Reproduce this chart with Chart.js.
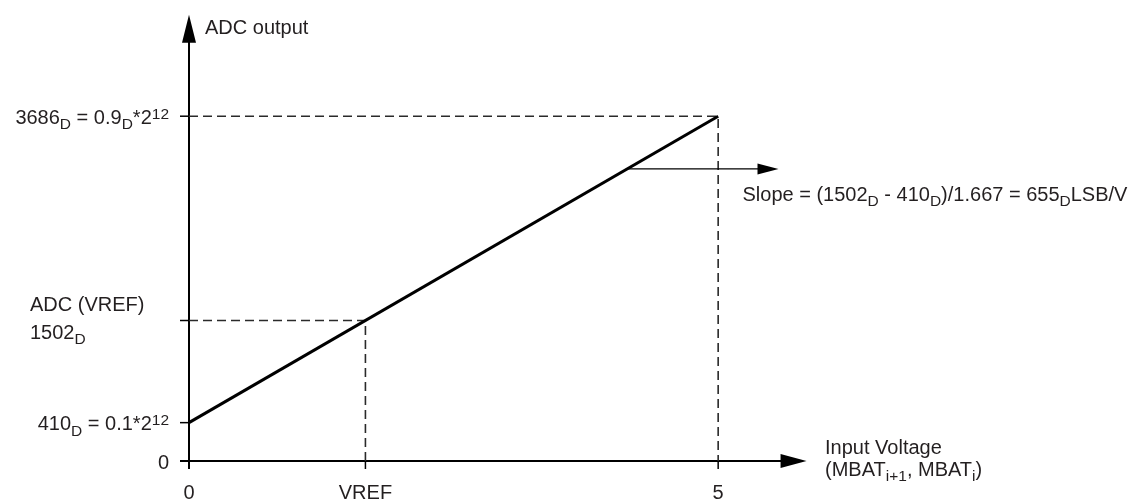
<!DOCTYPE html>
<html><head><meta charset="utf-8">
<script src="https://cdn.jsdelivr.net/npm/chart.js@4/dist/chart.umd.min.js"></script>
<style>html,body{margin:0;padding:0;background:#fff}#wrap{width:1138px;height:502px}</style>
</head><body><div id="wrap"><canvas id="c" width="1138" height="502"></canvas></div>
<script>
// ---- data ----
const inputVoltage = [0, 5];
const adcOutput = [410, 3686];
const vrefVoltage = 1.667;
const adcAtVref = 1502;
const fullScaleVoltage = 5;
const adcAtFullScale = 3686;
const xTickValues = [0, 1.667, 5];
const xTickLabels = ['0', 'VREF', '5'];
const yTickValues = [0, 410, 1502, 3686];
const yTickLabels = ['0', '410_{D} = 0.1*2^{12}', '1502_{D}', '3686_{D} = 0.9_{D}*2^{12}'];
const yTickCaptions = ['', '', 'ADC (VREF)', ''];
const yAxisTitle = 'ADC output';
const xAxisTitle = ['Input Voltage', '(MBAT_{i+1}, MBAT_{i})'];
const slopeText = 'Slope = (1502_{D} - 410_{D})/1.667 = 655_{D}LSB/V';
const slopeArrowVoltage = [4.14, 5.57];

// ---- helpers ----
const FONT = '"Liberation Sans", Arial, Helvetica, sans-serif';
const MAIN = 20, SMALL = 15.5, TEXT = '#231f20';
function parseRich(s){
  const segs=[]; const re=/([_^])\{([^}]*)\}/g; let last=0,m;
  while((m=re.exec(s))){
    if(m.index>last) segs.push({t:s.slice(last,m.index),k:'n'});
    segs.push({t:m[2],k:m[1]==='_'?'sub':'sup'}); last=re.lastIndex;
  }
  if(last<s.length) segs.push({t:s.slice(last),k:'n'});
  return segs;
}
function segFont(k){ return (k==='n'?MAIN:SMALL)+'px '+FONT; }
function richWidth(ctx,s){
  let w=0; for(const g of parseRich(s)){ ctx.font=segFont(g.k); w+=ctx.measureText(g.t).width; } return w;
}
function drawRich(ctx,s,x,y,align){
  let w=richWidth(ctx,s);
  let cx = align==='right'? x-w : align==='center'? x-w/2 : x;
  ctx.textAlign='left'; ctx.textBaseline='alphabetic'; ctx.fillStyle=TEXT;
  for(const g of parseRich(s)){
    ctx.font=segFont(g.k);
    const dy = g.k==='sub'?5.5:g.k==='sup'?-5:0;
    ctx.fillText(g.t,cx,y+dy);
    cx+=ctx.measureText(g.t).width;
  }
}
function tri(ctx,pts){ ctx.beginPath(); ctx.moveTo(pts[0][0],pts[0][1]); ctx.lineTo(pts[1][0],pts[1][1]); ctx.lineTo(pts[2][0],pts[2][1]); ctx.closePath(); ctx.fill(); }

const diagram = {
  id:'diagram',
  beforeDatasetsDraw(chart){
    const ctx=chart.ctx, xs=chart.scales.x, ys=chart.scales.y;
    const x0=xs.getPixelForValue(0), y0=ys.getPixelForValue(0);
    const xEnd=xs.getPixelForValue(5.835), yTop=ys.getPixelForValue(4770);
    ctx.save();
    ctx.strokeStyle='#000'; ctx.fillStyle='#000'; ctx.lineWidth=2;
    // y axis
    ctx.beginPath(); ctx.moveTo(x0,y0+8); ctx.lineTo(x0,yTop+20); ctx.stroke();
    tri(ctx,[[x0,yTop],[x0-7,yTop+28],[x0+7,yTop+28]]);
    // x axis
    ctx.beginPath(); ctx.moveTo(x0-9,y0); ctx.lineTo(xEnd-20,y0); ctx.stroke();
    tri(ctx,[[xEnd,y0],[xEnd-26,y0-7],[xEnd-26,y0+7]]);
    // y ticks
    ctx.lineWidth=1.5;
    yTickValues.forEach(v=>{ if(v===0) return; const py=ys.getPixelForValue(v);
      ctx.beginPath(); ctx.moveTo(x0-9,py); ctx.lineTo(x0,py); ctx.stroke(); });
    // x ticks below axis
    xTickValues.forEach(v=>{ if(v===0) return; const px=xs.getPixelForValue(v);
      ctx.beginPath(); ctx.moveTo(px,y0); ctx.lineTo(px,y0+8); ctx.stroke(); });
    ctx.restore();
  },
  afterDatasetsDraw(chart){
    const ctx=chart.ctx, xs=chart.scales.x, ys=chart.scales.y;
    const x0=xs.getPixelForValue(0), y0=ys.getPixelForValue(0);
    const xEnd=xs.getPixelForValue(5.835), yTop=ys.getPixelForValue(4770);
    ctx.save();
    // slope arrow
    const slope=(adcOutput[1]-adcOutput[0])/(inputVoltage[1]-inputVoltage[0]);
    const ay=ys.getPixelForValue(adcOutput[0]+slope*slopeArrowVoltage[0]);
    const ax1=xs.getPixelForValue(slopeArrowVoltage[0]), ax2=xs.getPixelForValue(slopeArrowVoltage[1]);
    ctx.strokeStyle='#000'; ctx.fillStyle='#000'; ctx.lineWidth=1.3;
    ctx.beginPath(); ctx.moveTo(ax1,ay); ctx.lineTo(ax2-15,ay); ctx.stroke();
    tri(ctx,[[ax2,ay],[ax2-21,ay-5.5],[ax2-21,ay+5.5]]);
    // texts
    drawRich(ctx,slopeText,ax2-36,ay+32,'left');
    drawRich(ctx,yAxisTitle,x0+16,yTop+19,'left');
    drawRich(ctx,xAxisTitle[0],xEnd+18.5,y0-7,'left');
    drawRich(ctx,xAxisTitle[1],xEnd+18.5,y0+14.5,'left');
    yTickValues.forEach((v,i)=>{
      const py=ys.getPixelForValue(v);
      if(yTickCaptions[i]){
        drawRich(ctx,yTickCaptions[i],30,py-10,'left');
        drawRich(ctx,yTickLabels[i],30,py+18,'left');
      } else {
        drawRich(ctx,yTickLabels[i],x0-20,py+7.5,'right');
      }
    });
    xTickValues.forEach((v,i)=>{
      drawRich(ctx,xTickLabels[i],xs.getPixelForValue(v),y0+37.5,'center');
    });
    ctx.restore();
  }
};

const dash=[9,5];
new Chart(document.getElementById('c'),{
  type:'line',
  data:{datasets:[
    {data:inputVoltage.map((x,i)=>({x,y:adcOutput[i]})),borderColor:'#000',borderWidth:3,pointRadius:0,clip:false,borderCapStyle:'butt'},
    {data:[{x:0,y:adcAtFullScale},{x:fullScaleVoltage,y:adcAtFullScale},{x:fullScaleVoltage,y:0}],borderColor:'#2a2a2a',borderWidth:1.6,borderDash:dash,pointRadius:0,clip:false,tension:0},
    {data:[{x:0,y:adcAtVref},{x:vrefVoltage,y:adcAtVref},{x:vrefVoltage,y:0}],borderColor:'#2a2a2a',borderWidth:1.6,borderDash:dash,pointRadius:0,clip:false,tension:0}
  ]},
  options:{
    responsive:false, devicePixelRatio:1, animation:false,
    layout:{padding:{left:189,right:314,top:12,bottom:41}},
    plugins:{legend:{display:false},tooltip:{enabled:false}},
    scales:{
      x:{type:'linear',min:0,max:6,display:false},
      y:{type:'linear',min:0,max:4800,display:false}
    }
  },
  plugins:[diagram]
});
</script>
</body></html>
